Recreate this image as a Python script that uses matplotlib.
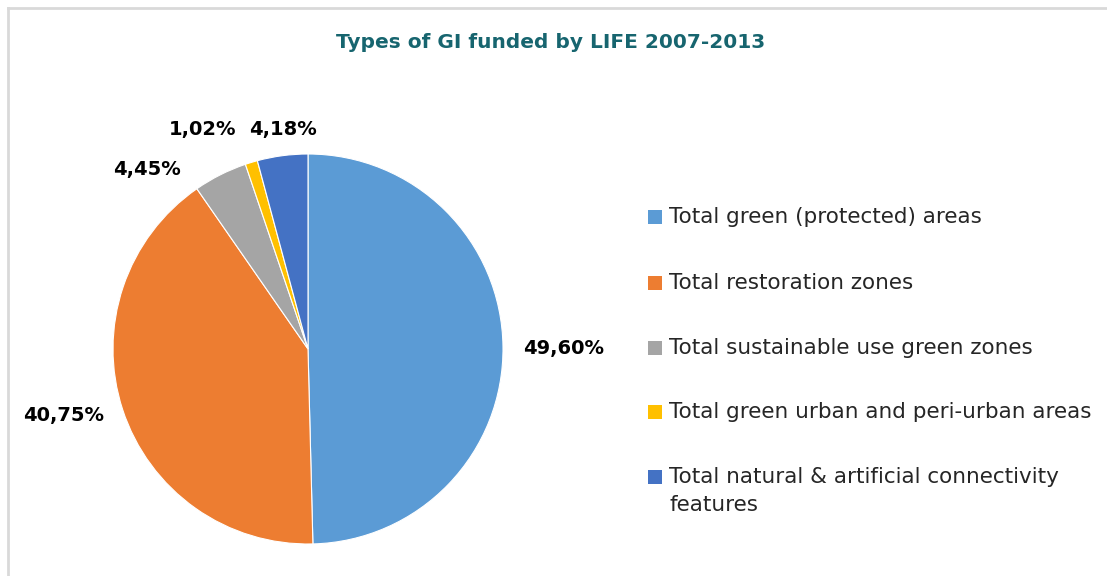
import matplotlib
matplotlib.use("Agg")
import matplotlib.pyplot as plt
from matplotlib.patches import Rectangle
from matplotlib.lines import Line2D
import numpy as np

title = "Types of GI funded by LIFE 2007-2013"
categories = [
    "Total green (protected) areas",
    "Total restoration zones",
    "Total sustainable use green zones",
    "Total green urban and peri-urban areas",
    "Total natural & artificial connectivity\nfeatures",
]
values = [49.60, 40.75, 4.45, 1.02, 4.18]
value_labels = ["49,60%", "40,75%", "4,45%", "1,02%", "4,18%"]
colors = ["#5B9BD5", "#ED7D31", "#A5A5A5", "#FFC000", "#4472C4"]

W, H = 1107, 576
fig = plt.figure(figsize=(W / 100, H / 100), dpi=100)
fig.patch.set_facecolor("white")

# outer border (only top/left visible in reference)
fig.add_artist(Line2D([8 / W, 1.0], [1 - 8 / H, 1 - 8 / H], transform=fig.transFigure,
                      color="#D9D9D9", linewidth=2))
fig.add_artist(Line2D([8 / W, 8 / W], [0.0, 1 - 8 / H], transform=fig.transFigure,
                      color="#D9D9D9", linewidth=2))

cx, cy, r = 308, 349, 195
ax = fig.add_axes([(cx - r) / W, (H - cy - r) / H, 2 * r / W, 2 * r / H])
wedges, _ = ax.pie(values, colors=colors, startangle=90, counterclock=False,
                   radius=1.0, wedgeprops=dict(edgecolor="white", linewidth=0.8))
ax.set_xlim(-1, 1)
ax.set_ylim(-1, 1)
ax.set_aspect("equal")
ax.axis("off")

# label placement (layout): angle offset (deg) from wedge middle and radial distance
ang_off = [-0.7, -2.8, 15.2, 8.8, -1.0]
dist = [1.31, 1.30, 1.235, 1.25, 1.135]
for w, lab, d, off in zip(wedges, value_labels, dist, ang_off):
    mid = np.deg2rad((w.theta1 + w.theta2) / 2 + off)
    ax.text(d * np.cos(mid), d * np.sin(mid), lab, ha="center", va="center",
            fontsize=14, fontweight="bold", color="black", clip_on=False)

fig.text(551 / W, 1 - 42 / H, title, ha="center", va="center",
         fontsize=14.5, fontweight="bold", color="#17656F")

# legend
leg_x = 648
leg_y = [217, 283, 348, 412, 477]
sq = 14
fs = 15.5
for y, lab, c in zip(leg_y, categories, colors):
    fig.patches.append(Rectangle((leg_x / W, (H - y - sq / 2) / H), sq / W, sq / H,
                                 transform=fig.transFigure, facecolor=c,
                                 edgecolor="none"))
    if "\n" in lab:
        fig.text((leg_x + sq + 7) / W, 1 - (y - 10) / H, lab, ha="left", va="top",
                 fontsize=fs, color="#262626", linespacing=1.5)
    else:
        fig.text((leg_x + sq + 7) / W, 1 - y / H, lab, ha="left", va="center",
                 fontsize=fs, color="#262626")

fig.savefig("out.png", dpi=100, facecolor="white")
